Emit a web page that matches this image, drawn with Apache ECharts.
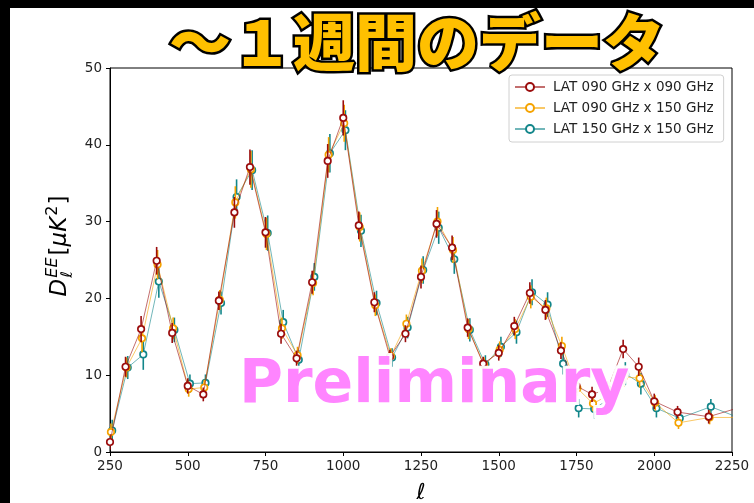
<!DOCTYPE html>
<html>
<head>
<meta charset="utf-8">
<script src="https://cdn.jsdelivr.net/npm/echarts@6/dist/echarts.min.js"></script>
<style>
html, body { margin: 0; padding: 0; background: #fff; }
#chart { width: 754px; height: 503px; }
</style>
</head>
<body>
<div id="chart"></div>
<script>
// Multipole bin centres
const ell = [250, 300, 350, 400, 450, 500, 550, 600, 650, 700, 750, 800, 850, 900, 950,
  1000, 1050, 1100, 1150, 1200, 1250, 1300, 1350, 1400, 1450, 1500, 1550, 1600, 1650, 1700,
  1750, 1800, 1850, 1900, 1950, 2000, 2075, 2175, 2275];

// D_l^EE band powers [uK^2]
const dl090x090 = [1.3, 11.1, 16.0, 24.9, 15.5, 8.6, 7.5, 19.7, 31.2, 37.1, 28.6, 15.4, 12.2, 22.1, 37.9,
  43.5, 29.5, 19.5, 12.4, 15.4, 22.8, 29.7, 26.6, 16.2, 11.5, 12.9, 16.4, 20.7, 18.5, 13.2,
  8.6, 7.5, 8.2, 13.4, 11.1, 6.6, 5.2, 4.6, 5.8];
const dl090x150 = [2.6, 11.0, 14.8, 24.4, 16.1, 8.2, 8.4, 19.8, 32.5, 36.8, 28.4, 16.1, 12.6, 22.0, 38.7,
  42.8, 29.3, 19.1, 12.5, 16.7, 23.6, 30.0, 26.3, 16.0, 11.3, 13.3, 16.0, 20.2, 18.7, 13.8,
  8.3, 6.3, 7.4, 9.8, 9.6, 6.4, 3.8, 4.5, 4.5];
const dl150x150 = [2.8, 11.0, 12.7, 22.2, 15.9, 8.9, 9.0, 19.4, 33.2, 36.7, 28.5, 16.9, 12.0, 22.8, 38.9,
  41.9, 28.8, 19.4, 12.3, 16.2, 23.7, 29.2, 25.1, 15.9, 11.4, 13.7, 15.6, 20.8, 19.2, 11.5,
  5.7, 5.6, 7.0, 10.2, 8.9, 5.7, 4.4, 5.9, 4.3];

// 1-sigma uncertainties
const err090x090 = [1.0, 1.3, 1.7, 1.8, 1.3, 1.0, 0.9, 1.2, 2.0, 2.3, 2.0, 1.3, 1.0, 1.5, 2.2,
  2.3, 1.8, 1.3, 0.9, 1.1, 1.5, 1.8, 1.6, 1.2, 0.9, 1.0, 1.2, 1.4, 1.3, 1.1,
  0.9, 1.0, 1.0, 1.2, 1.2, 1.0, 0.8, 0.9, 1.0];
const err090x150 = [1.1, 1.3, 1.8, 1.9, 1.4, 1.0, 1.0, 1.3, 2.1, 2.4, 2.1, 1.4, 1.1, 1.6, 2.3,
  2.4, 1.9, 1.4, 1.0, 1.2, 1.6, 1.9, 1.7, 1.3, 1.0, 1.1, 1.3, 1.5, 1.4, 1.2,
  1.0, 1.0, 1.1, 1.3, 1.2, 1.0, 0.8, 0.9, 1.0];
const err150x150 = [1.4, 1.5, 2.0, 2.1, 1.6, 1.2, 1.1, 1.5, 2.3, 2.6, 2.3, 1.6, 1.3, 1.8, 2.5,
  2.6, 2.1, 1.6, 1.2, 1.4, 1.8, 2.1, 1.9, 1.5, 1.2, 1.3, 1.5, 1.7, 1.6, 1.4,
  1.2, 1.2, 1.3, 1.5, 1.4, 1.2, 1.0, 1.0, 1.1];

const xTicks = [250, 500, 750, 1000, 1250, 1500, 1750, 2000, 2250];
const yTicks = [0, 10, 20, 30, 40, 50];

// small horizontal offsets in l keep the three spectra from overlapping exactly
const spectra = [
  { name: 'LAT 090 GHz x 090 GHz', vals: dl090x090, errs: err090x090, color: '#9b0d0d', shift: 0, z: 7 },
  { name: 'LAT 090 GHz x 150 GHz', vals: dl090x150, errs: err090x150, color: '#f5a300', shift: 3, z: 5 },
  { name: 'LAT 150 GHz x 150 GHz', vals: dl150x150, errs: err150x150, color: '#12868a', shift: 7, z: 3 }
];

const chart = echarts.init(document.getElementById('chart'), null, { renderer: 'canvas' });

const series = [];
spectra.forEach(s => {
  // vertical error bars
  series.push({
    type: 'custom',
    z: s.z,
    silent: true,
    clip: true,
    data: ell.map((l, i) => [l + s.shift, s.vals[i] - s.errs[i], s.vals[i] + s.errs[i]]),
    encode: { x: 0, y: [1, 2] },
    renderItem: (params, api) => {
      const a = api.coord([api.value(0), api.value(1)]);
      const b = api.coord([api.value(0), api.value(2)]);
      return {
        type: 'line',
        shape: { x1: a[0], y1: a[1], x2: b[0], y2: b[1] },
        style: { stroke: s.color, lineWidth: 1.6 }
      };
    }
  });
  // connecting line with open markers
  series.push({
    type: 'line',
    name: s.name,
    z: s.z + 1,
    clip: true,
    showAllSymbol: true,
    symbol: 'circle',
    symbolSize: 6.5,
    data: ell.map((l, i) => [l + s.shift, s.vals[i]]),
    lineStyle: { color: s.color, width: 1, opacity: 0.6 },
    itemStyle: { color: '#fff', borderColor: s.color, borderWidth: 1.7 },
    emphasis: { disabled: true }
  });
});

// y-axis label laid out piece by piece (sub/superscripts)
const ctx = document.createElement('canvas').getContext('2d');
function w(font, t) { ctx.font = font; return ctx.measureText(t).width; }
const fam = '"DejaVu Sans"';
const big = 23, small = 16;
const fBigI = 'italic ' + big + 'px ' + fam, fBig = big + 'px ' + fam;
const fSmI = 'italic ' + small + 'px ' + fam, fSm = small + 'px ' + fam;
const pieces = [];
let cx = 0;
pieces.push({ t: 'D', f: fBigI, s: big, x: cx, y: 0 }); cx += w(fBigI, 'D') + 1;
pieces.push({ t: 'EE', f: fSmI, s: small, x: cx, y: -10 });
pieces.push({ t: 'ℓ', f: fSmI, s: small, x: cx, y: 5 });
cx += Math.max(w(fSmI, 'EE'), w(fSmI, 'ℓ')) + 2;
pieces.push({ t: '[', f: fBig, s: big, x: cx, y: 0 }); cx += w(fBig, '[');
pieces.push({ t: 'μ', f: fBigI, s: big, x: cx, y: 0 }); cx += w(fBigI, 'μ');
pieces.push({ t: 'K', f: fBigI, s: big, x: cx, y: 0 }); cx += w(fBigI, 'K') + 1;
pieces.push({ t: '2', f: fSm, s: small, x: cx, y: -10 }); cx += w(fSm, '2') + 1;
pieces.push({ t: ']', f: fBig, s: big, x: cx, y: 0 }); cx += w(fBig, ']');
const labelW = cx;
const TOP_TO_BASE = 0.85;

const yLabel = {
  type: 'group',
  x: 68,
  y: 246,
  rotation: Math.PI / 2,
  z: 50,
  children: pieces.map(p => ({
    type: 'text',
    x: p.x - labelW / 2,
    y: p.y - TOP_TO_BASE * p.s,
    style: { text: p.t, font: p.f, fill: '#000' }
  }))
};

chart.setOption({
  animation: false,
  backgroundColor: '#fff',
  grid: {
    left: 110, right: 22, top: 68, bottom: 51,
    outerBoundsMode: 'none',
    containLabel: false,
    show: true, borderColor: '#000', borderWidth: 1, backgroundColor: 'transparent'
  },
  legend: {
    data: spectra.map(s => s.name),
    orient: 'vertical',
    left: 509,
    top: 75,
    padding: [5, 10, 6, 5],
    itemGap: 7,
    itemWidth: 30,
    itemHeight: 10,
    backgroundColor: '#fff',
    borderColor: '#d0d0d0',
    borderWidth: 1,
    borderRadius: 3,
    textStyle: { fontFamily: fam, fontSize: 13.5, lineHeight: 14, color: '#222', padding: [0, 0, 0, 3] },
    selectedMode: false
  },
  xAxis: {
    type: 'value',
    min: xTicks[0],
    max: xTicks[xTicks.length - 1],
    interval: xTicks[1] - xTicks[0],
    name: 'ℓ',
    nameLocation: 'middle',
    nameGap: 30,
    nameTextStyle: { fontFamily: fam, fontStyle: 'italic', fontSize: 22, color: '#000' },
    axisLine: { show: true, lineStyle: { color: '#000', width: 1 } },
    axisTick: { show: true, inside: false, length: 4, lineStyle: { color: '#000' } },
    axisLabel: { fontFamily: fam, fontSize: 13.5, color: '#222', margin: 7, formatter: v => String(v) },
    splitLine: { show: false }
  },
  yAxis: {
    type: 'value',
    min: yTicks[0],
    max: yTicks[yTicks.length - 1],
    interval: yTicks[1] - yTicks[0],
    axisLine: { show: true, lineStyle: { color: '#000', width: 1 } },
    axisTick: { show: true, inside: false, length: 4, lineStyle: { color: '#000' } },
    axisLabel: { fontFamily: fam, fontSize: 13.5, color: '#222', margin: 8, formatter: v => String(v) },
    splitLine: { show: false }
  },
  series: series,
  graphic: [
    { type: 'rect', z: 200, shape: { x: 0, y: 0, width: 754, height: 8 }, style: { fill: '#000' } },
    { type: 'rect', z: 200, shape: { x: 0, y: 0, width: 10, height: 503 }, style: { fill: '#000' } },
    yLabel,
    {
      type: 'text', z: 150,
      x: 239, y: 407 - TOP_TO_BASE * 60,
      style: {
        text: 'Preliminary',
        font: 'bold 60px ' + fam,
        fill: '#ff85ff',
        stroke: 'rgba(255,255,255,0.95)',
        lineWidth: 6
      }
    },
    {
      type: 'text', z: 160,
      x: 417, y: 42,
      style: {
        text: '～１週間のデータ',
        font: '900 62px "Noto Sans CJK JP"',
        fill: '#ffc000',
        stroke: '#000',
        lineWidth: 5,
        shadowColor: 'rgba(0,0,0,0.75)',
        shadowBlur: 7,
        textAlign: 'center',
        textVerticalAlign: 'middle'
      }
    }
  ]
});
</script>
</body>
</html>
